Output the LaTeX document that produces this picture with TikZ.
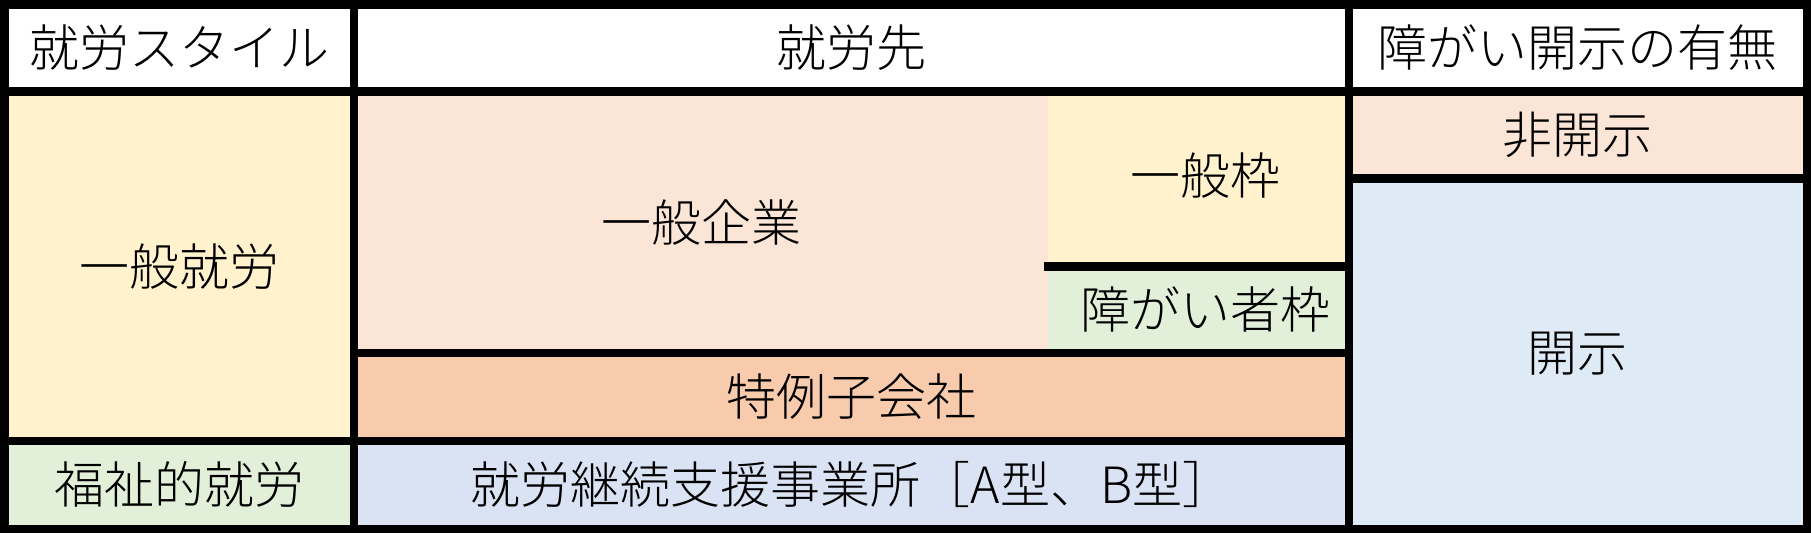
\documentclass[tikz,border=0pt]{standalone}
\usepackage{fontspec}
\IfFontExistsTF{Noto Sans CJK JP Light}{\newfontfamily\jp{Noto Sans CJK JP Light}}{\newfontfamily\jp{Noto Sans CJK JP}}
\usetikzlibrary{fit}
\definecolor{cyellow}{HTML}{FFF2CC}
\definecolor{cpeach}{HTML}{FBE5D6}
\definecolor{corange}{HTML}{F8CBAD}
\definecolor{cgreen}{HTML}{E2F0D9}
\definecolor{clav}{HTML}{DAE3F3}
\definecolor{cblue}{HTML}{DEEBF7}
\begin{document}
\begin{tikzpicture}[x=1pt,y=-1pt,
  cell/.style={inner sep=0pt, outer sep=0pt},
  txt/.style={inner sep=0pt, font=\jp\fontsize{50}{52}\selectfont, text=black},
  grid/.style={line width=8.5pt, draw=black, line cap=rect}]
\useasboundingbox (0,0) rectangle (1811,533);
\fill[white] (0,0) rectangle (1811,533);
% header row
\node[cell, fill=white, fit={(4.25,4.25)(354,91.5)}, label={[txt]center:就労スタイル}] (h1) {};
\node[cell, fill=white, fit={(354,4.25)(1349,91.5)}, label={[txt]center:就労先}] (h2) {};
\node[cell, fill=white, fit={(1349,4.25)(1806.75,91.5)}, label={[txt]center:障がい開示の有無}] (h3) {};
% column 1
\node[cell, fill=cyellow, fit={(4.25,91.5)(354,441)}, label={[txt]center:一般就労}] (ippanshuro) {};
\node[cell, fill=cgreen, fit={(4.25,441)(354,528.75)}, label={[txt]center:福祉的就労}] (fukushi) {};
% column 2
\node[cell, fill=cpeach, fit={(354,91.5)(1048,353)}, label={[txt]center:一般企業}] (kigyo) {};
\node[cell, fill=cyellow, fit={(1048,91.5)(1349,266.5)}, label={[txt, xshift=7pt, yshift=3pt]center:一般枠}] (ippanwaku) {};
\node[cell, fill=cgreen, fit={(1048,266.5)(1349,353)}, label={[txt, xshift=7pt]center:障がい者枠}] (shogaiwaku) {};
\node[cell, fill=corange, fit={(354,353)(1349,441)}, label={[txt]center:特例子会社}] (tokurei) {};
\node[cell, fill=clav, fit={(354,441)(1349,528.75)}, label={[txt]center:就労継続支援事業所［A型、B型］}] (keizoku) {};
% column 3
\node[cell, fill=cpeach, fit={(1349,91.5)(1806.75,178.5)}, label={[txt]center:非開示}] (hikaiji) {};
\node[cell, fill=cblue, fit={(1349,178.5)(1806.75,528.75)}, label={[txt]center:開示}] (kaiji) {};
% grid lines
\draw[grid] (h1.north west) rectangle (kaiji.south east);
\draw[grid] (h1.south west) -- (h3.south east);
\draw[grid] (fukushi.north west) -- (keizoku.north east);
\draw[grid] (h1.north east) -- (fukushi.south east);
\draw[grid] (h2.north east) -- (keizoku.south east);
\draw[grid] (tokurei.north west) -- (tokurei.north east);
\draw[grid] (shogaiwaku.north west) -- (shogaiwaku.north east);
\draw[grid] (kaiji.north west) -- (kaiji.north east);
\end{tikzpicture}
\end{document}
